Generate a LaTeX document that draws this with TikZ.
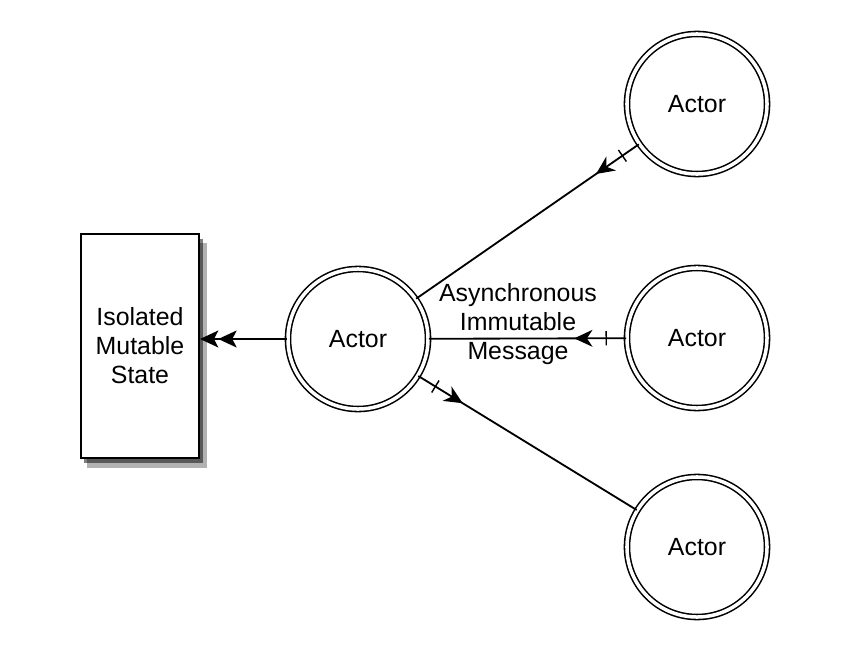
\documentclass[tikz,border=0pt]{standalone}
\usepackage{fontspec}
\setmainfont{Liberation Sans}
\usetikzlibrary{arrows.meta,decorations.markings,shadows}

\begin{document}
\begin{tikzpicture}[x=0.025cm,y=-0.025cm,
  font=\fontsize{17.7}{20.6}\selectfont,
  actor/.style={draw,circle,double,double distance=2.5pt,line width=1.1pt,minimum size=3.5cm,inner sep=0pt},
  msg/.style={line width=1.3pt,postaction={decorate},decoration={markings,
    mark=at position 0.5cm with {\draw[line width=1pt] (0,-5pt) -- (0,5pt);},
    mark=at position 1.3cm with {\arrow{Stealth[length=13pt,width=12pt,inset=4pt]}}}}]
\useasboundingbox (0,0) rectangle (851,665);

% shadow under the state box
\fill[black,opacity=0.3] (87,243) rectangle (207,468);
\fill[black,opacity=0.5] (84,239) rectangle (203,463);
\node[draw,line width=1.4pt,fill=white,align=center,minimum width=2.95cm,minimum height=5.575cm] (state) at (140,346) {Isolated\\Mutable\\State};

\node[actor] (main) at (358,339) {Actor};
\node[actor] (top) at (697,104) {Actor};
\node[actor] (mid) at (697,338) {Actor};
\node[actor] (bot) at (697,547) {Actor};

\draw[line width=1.3pt,-{Stealth[length=13pt,width=12pt,inset=3pt] Stealth[length=13pt,width=12pt,inset=3pt]}] (main.west) -- (state.east |- main.west);
\draw[msg] (top) -- (main);
\draw[msg] (mid) -- (main);
\draw[msg] (main) -- (bot);

\node[align=center] (label) at (518,324) {Asynchronous\\Immutable\\Message};

\end{tikzpicture}
\end{document}
